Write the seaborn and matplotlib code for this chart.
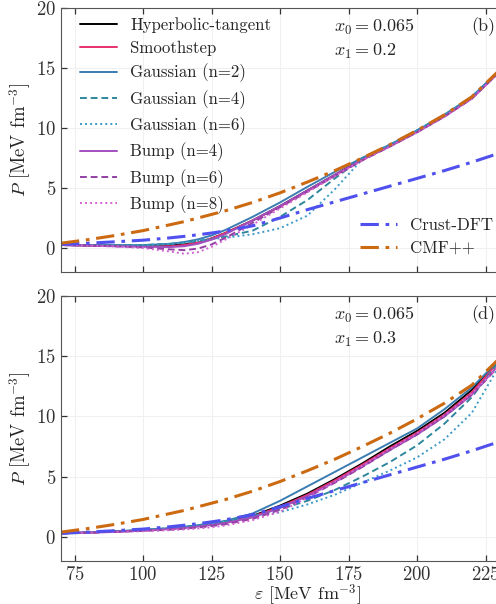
import matplotlib
matplotlib.use("Agg")
import matplotlib.pyplot as plt
import seaborn as sns

# energy density grid [MeV fm^-3]
eps = [70, 80, 90, 100, 110, 115, 120, 125, 130, 140, 150, 160, 170, 180, 190, 200, 210, 220, 230]

# reference EoS
crust_dft = [0.3, 0.4, 0.52, 0.65, 0.85, 0.97, 1.1, 1.25, 1.42, 1.85, 2.5, 3.2, 3.85, 4.5, 5.15, 5.8, 6.45, 7.15, 7.9]
cmf_pp = [0.4, 0.7, 1.05, 1.45, 1.95, 2.2, 2.5, 2.8, 3.1, 3.8, 4.6, 5.5, 6.45, 7.5, 8.6, 9.8, 11.1, 12.6, 14.8]

# panel (b): x1 = 0.2
tanh_b = [0.25, 0.22, 0.2, 0.18, 0.22, 0.3, 0.45, 0.8, 1.25, 2.3, 3.5, 4.8, 6.1, 7.4, 8.55, 9.75, 11.05, 12.55, 14.75]
smooth_b = [0.25, 0.21, 0.18, 0.15, 0.15, 0.25, 0.45, 0.8, 1.25, 2.3, 3.45, 4.75, 6.05, 7.35, 8.5, 9.7, 11.0, 12.5, 14.7]
gauss2_b = [0.25, 0.23, 0.22, 0.24, 0.35, 0.5, 0.72, 1.05, 1.5, 2.6, 3.8, 5.1, 6.35, 7.5, 8.6, 9.8, 11.1, 12.6, 14.8]
gauss4_b = [0.25, 0.23, 0.22, 0.24, 0.35, 0.45, 0.6, 0.75, 0.95, 1.45, 2.6, 4.0, 5.8, 7.5, 8.6, 9.8, 11.1, 12.6, 14.8]
gauss6_b = [0.25, 0.23, 0.22, 0.24, 0.35, 0.45, 0.6, 0.75, 0.85, 1.15, 1.65, 2.7, 4.9, 7.4, 8.6, 9.8, 11.1, 12.6, 14.8]
bump4_b = [0.25, 0.2, 0.15, 0.1, 0.08, 0.15, 0.35, 0.7, 1.15, 2.3, 3.5, 4.8, 6.1, 7.35, 8.45, 9.65, 10.95, 12.45, 14.65]
bump6_b = [0.25, 0.2, 0.14, 0.05, -0.12, -0.18, -0.05, 0.3, 0.85, 2.1, 3.4, 4.7, 6.0, 7.3, 8.45, 9.65, 10.95, 12.45, 14.65]
bump8_b = [0.25, 0.2, 0.12, 0.0, -0.3, -0.48, -0.35, 0.1, 0.7, 1.95, 3.3, 4.65, 6.0, 7.3, 8.45, 9.65, 10.95, 12.45, 14.65]

# panel (d): x1 = 0.3
tanh_d = [0.3, 0.37, 0.45, 0.55, 0.7, 0.8, 0.92, 1.05, 1.22, 1.75, 2.6, 3.6, 4.8, 6.1, 7.5, 8.8, 10.3, 12.2, 14.7]
smooth_d = [0.3, 0.36, 0.44, 0.54, 0.68, 0.78, 0.9, 1.03, 1.2, 1.7, 2.5, 3.5, 4.7, 6.0, 7.35, 8.65, 10.15, 12.0, 14.6]
gauss2_d = [0.3, 0.37, 0.46, 0.57, 0.73, 0.84, 0.97, 1.12, 1.32, 1.95, 3.0, 4.2, 5.4, 6.6, 7.8, 9.0, 10.6, 12.4, 14.7]
gauss4_d = [0.3, 0.37, 0.46, 0.57, 0.73, 0.84, 0.97, 1.12, 1.3, 1.75, 2.3, 3.0, 3.9, 5.0, 6.2, 7.6, 9.4, 11.6, 14.6]
gauss6_d = [0.3, 0.37, 0.46, 0.57, 0.73, 0.84, 0.97, 1.12, 1.28, 1.65, 2.05, 2.7, 3.5, 4.5, 5.5, 6.6, 8.1, 10.3, 14.2]
bump4_d = [0.3, 0.36, 0.43, 0.52, 0.65, 0.74, 0.86, 0.99, 1.15, 1.62, 2.4, 3.4, 4.55, 5.85, 7.2, 8.5, 10.0, 11.8, 14.3]
bump6_d = [0.3, 0.35, 0.42, 0.5, 0.6, 0.68, 0.78, 0.9, 1.05, 1.5, 2.25, 3.3, 4.5, 5.8, 7.2, 8.5, 10.0, 11.8, 14.2]
bump8_d = [0.3, 0.35, 0.41, 0.48, 0.56, 0.62, 0.7, 0.8, 0.95, 1.4, 2.1, 3.25, 4.6, 5.9, 7.3, 8.6, 10.1, 11.9, 14.2]

labels = ["Hyperbolic-tangent", "Smoothstep", "Gaussian (n=2)", "Gaussian (n=4)",
          "Gaussian (n=6)", "Bump (n=4)", "Bump (n=6)", "Bump (n=8)"]
colors = ["black", "#e6306e", "#3a7db2", "#2e879c", "#3a9ac8", "#a24fc0", "#9440a4", "#d262d2"]
styles = ["-", "-", "-", (0, (3.5, 2)), (0, (1, 1.6)), "-", (0, (3.5, 2)), (0, (1, 1.6))]

panels = [
    [tanh_b, smooth_b, gauss2_b, gauss4_b, gauss6_b, bump4_b, bump6_b, bump8_b],
    [tanh_d, smooth_d, gauss2_d, gauss4_d, gauss6_d, bump4_d, bump6_d, bump8_d],
]

sns.set_style("ticks")
plt.rcParams.update({
    "font.family": "serif",
    "font.serif": ["cmr10", "DejaVu Serif"],
    "mathtext.fontset": "cm",
    "axes.formatter.use_mathtext": True,
    "font.size": 12,
    "axes.edgecolor": "#555555",
    "xtick.direction": "in",
    "ytick.direction": "in",
    "xtick.top": True,
    "ytick.right": True,
})

W, H = 496, 604
fig = plt.figure(figsize=(W / 100, H / 100), dpi=100)
# axes run past the right edge (the reference is cropped there)
ax_top = fig.add_axes([61 / W, 1 - 272 / H, 493 / W, 264 / H])
ax_bot = fig.add_axes([61 / W, 1 - 561 / H, 493 / W, 265 / H])

for ax, curves in zip([ax_top, ax_bot], panels):
    for vals, lab, col, ls in zip(curves, labels, colors, styles):
        sns.lineplot(x=eps, y=vals, ax=ax, color=col, linestyle=ls, linewidth=1.4, label=lab)
    sns.lineplot(x=eps, y=crust_dft, ax=ax, color="#5050ee", linewidth=2.2,
                 linestyle=(0, (6, 2.2, 1.2, 2.2)), label="Crust-DFT")
    sns.lineplot(x=eps, y=cmf_pp, ax=ax, color="#cc6a12", linewidth=2.2,
                 linestyle=(0, (6, 2.2, 1.2, 2.2)), label="CMF++")
    ax.set_xlim(70, 250)
    ax.set_ylim(-2, 20)
    ax.set_xticks([75, 100, 125, 150, 175, 200, 225])
    ax.set_yticks([0, 5, 10, 15, 20])
    ax.grid(True, color="#f0f0f0", linewidth=0.8)
    ax.set_axisbelow(True)
    ax.tick_params(length=4, width=0.9, colors="#333333", labelsize=13.5)
    ax.set_ylabel(r"$P$ [MeV fm$^{-3}$]", fontsize=13.5, labelpad=2)
    ax.get_legend().remove()

ax_top.tick_params(labelbottom=False)
ax_bot.set_xlabel(r"$\varepsilon$ [MeV fm$^{-3}$]", fontsize=13, labelpad=-1)

for ytxt, x1, tag in [(27, "0.2", "(b)"), (315, "0.3", "(d)")]:
    fig.text(334 / W, 1 - ytxt / H, r"$x_0 = 0.065$", fontsize=13, va="center")
    fig.text(334 / W, 1 - (ytxt + 24) / H, r"$x_1 = $" + f"${x1}$", fontsize=13, va="center")
    fig.text(471 / W, 1 - ytxt / H, tag, fontsize=13, va="center")

handles, labs = ax_top.get_legend_handles_labels()
leg1 = ax_top.legend(handles[:8], labs[:8], loc="upper left", frameon=False,
                     bbox_to_anchor=(80 / W, 1 - 17 / H), bbox_transform=fig.transFigure,
                     handlelength=2.2, handletextpad=0.8, labelspacing=0.46, fontsize=12.1,
                     borderaxespad=0, borderpad=0)
ax_top.add_artist(leg1)
ax_top.legend(handles[8:], labs[8:], loc="lower left", frameon=False,
              bbox_to_anchor=(360 / W, 1 - 256 / H), bbox_transform=fig.transFigure,
              handlelength=2.2, handletextpad=0.8, labelspacing=0.46, fontsize=12.1,
              borderaxespad=0, borderpad=0)

fig.savefig("out.png", dpi=100)
